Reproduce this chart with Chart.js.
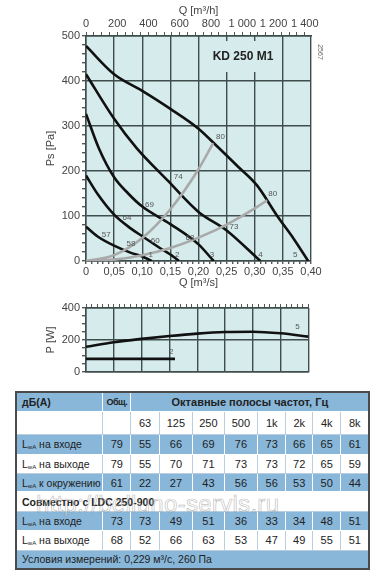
<!DOCTYPE html>
<html>
<head>
<meta charset="utf-8">
<script src="https://cdn.jsdelivr.net/npm/chart.js@4.4.0/dist/chart.umd.min.js"></script>
<style>
  body { margin: 0; width: 384px; height: 579px; position: relative; overflow: hidden; background: #fff;
         font-family: "Liberation Sans", Arial, sans-serif; color: #222; }
  #fanChart { position: absolute; left: 0; top: 0; }
  #powerChart { position: absolute; left: 0; top: 292px; }
  #noise { position: absolute; left: 15px; top: 391px; width: 353px; border-collapse: collapse;
           table-layout: fixed; font-size: 11px; border: 2px solid #4a4a4a; }
  #noise td { border: 1px solid #fff; text-align: center; padding: 0; white-space: nowrap; }
  #noise tr.blue td { background: #88b7da; }
  #noise tr.white td { background: #fff; border-color: #b9cfe0; }
  #noise td.lbl { text-align: left; padding-left: 5px; font-size: 10.5px; }
  #noise sub { font-size: 6px; vertical-align: -1px; }
  .b { font-weight: bold; }
  #mark { position: absolute; left: 36px; top: 490px; font-size: 24px; color: rgba(255,255,255,0.3);
          -webkit-text-stroke: 0.7px rgba(110,110,110,0.45); letter-spacing: 0.3px; pointer-events: none; }
</style>
</head>
<body>
<canvas id="fanChart" width="384" height="292"></canvas>
<canvas id="powerChart" width="384" height="90"></canvas>

<table id="noise">
  <colgroup>
    <col style="width:86.7px"><col style="width:28.3px"><col style="width:28.3px"><col style="width:33.3px">
    <col style="width:31.7px"><col style="width:33.3px"><col style="width:28.3px"><col style="width:26.7px">
    <col style="width:28.3px"><col style="width:28.3px">
  </colgroup>
  <tbody id="noiseBody"></tbody>
</table>
<div id="mark">http://belluno-servis.ru</div>

<script>
// fan curves, Q in m3/s, Ps in Pa
const curveQ1 = [0, 0.02, 0.05, 0.08, 0.10, 0.117];
const curveP1 = [76, 55, 34, 18, 10, 0];
const curveQ2 = [0, 0.02, 0.05, 0.08, 0.10, 0.13, 0.156, 0.165];
const curveP2 = [190, 150, 103, 72, 55, 30, 9, 0];
const curveQ3 = [0, 0.023, 0.05, 0.075, 0.10, 0.15, 0.20, 0.227];
const curveP3 = [327, 250, 186, 150, 121, 82, 37, 0];
const curveQ4 = [0, 0.05, 0.09, 0.145, 0.20, 0.25, 0.31];
const curveP4 = [415, 316, 251, 179, 109, 68, 0];
const curveQ5 = [0, 0.05, 0.10, 0.15, 0.20, 0.233, 0.27, 0.304, 0.34, 0.37, 0.395];
const curveP5 = [478, 415, 378, 338, 294, 255, 210, 168, 100, 48, 0];

// system curves (grey)
const sysQHigh = [0, 0.05, 0.10, 0.15, 0.20, 0.226];
const sysPHigh = [0, 13, 51, 115, 204, 262];
const sysQLow = [0, 0.05, 0.10, 0.15, 0.20, 0.25, 0.30, 0.322];
const sysPLow = [0, 3, 13, 29, 52, 81, 117, 135];

// small labels inside the plot
const labelText = ['57', '64', '69', '74', '80', '58', '60', '68', '73', '80', '1', '2', '3', '4', '5'];
const labelQ = [0.036, 0.073, 0.113, 0.164, 0.239, 0.080, 0.123, 0.185, 0.263, 0.332, 0.115, 0.162, 0.224, 0.310, 0.372];
const labelP = [58, 95, 124, 187, 275, 38, 44, 52, 76, 150, 13, 13, 13, 13, 13];

// power curves, W
const powerQ5 = [0, 0.05, 0.10, 0.15, 0.20, 0.25, 0.30, 0.35, 0.40];
const powerW5 = [158, 186, 207, 225, 240, 250, 252, 242, 221];
const powerQ2 = [0, 0.16];
const powerW2 = [82, 82];
const powerLabelText = ['2', '5'];
const powerLabelQ = [0.153, 0.38];
const powerLabelW = [126, 284];

// noise table
const bands = ['63', '125', '250', '500', '1k', '2k', '4k', '8k'];
const rowNames = ['на входе', 'на выходе', 'к окружению'];
const rowTotal = [79, 79, 61];
const rowBands = [
  [55, 66, 69, 76, 73, 66, 65, 61],
  [55, 70, 71, 73, 73, 72, 65, 59],
  [22, 27, 43, 56, 56, 53, 50, 44]
];
const ldcNames = ['на входе', 'на выходе'];
const ldcTotal = [73, 68];
const ldcBands = [
  [73, 49, 51, 36, 33, 34, 48, 51],
  [52, 66, 63, 53, 47, 49, 55, 51]
];

const PLOT_BG = '#d6ebeb';
const GRID = '#3f4d4d';
const TXT = '#444';
const FONT = '"Liberation Sans", Arial, sans-serif';

const zip = (xs, ys) => xs.map((x, i) => ({ x, y: ys[i] }));
const comma = v => v === 0 ? '0' : v.toFixed(2).replace('.', ',');
const spaced = v => v >= 1000 ? Math.floor(v / 1000) + ' ' + String(v % 1000).padStart(3, '0') : String(v);
const isMult = (v, step) => Math.abs(v / step - Math.round(v / step)) < 1e-6;

const bgPlugin = {
  id: 'plotBg',
  beforeDraw(chart) {
    const { ctx, chartArea: a } = chart;
    ctx.save();
    ctx.fillStyle = PLOT_BG;
    ctx.fillRect(a.left, a.top, a.right - a.left, a.bottom - a.top);
    ctx.restore();
  }
};

function lineSet(xs, ys, color) {
  return {
    data: zip(xs, ys),
    borderColor: color,
    borderWidth: 2.6,
    pointRadius: 0,
    fill: false,
    cubicInterpolationMode: 'monotone'
  };
}

function textPlugin(id, texts, xs, ys) {
  return {
    id,
    afterDatasetsDraw(chart) {
      const { ctx, scales } = chart;
      ctx.save();
      ctx.font = '8px ' + FONT;
      ctx.fillStyle = '#555';
      ctx.textAlign = 'center';
      ctx.textBaseline = 'middle';
      texts.forEach((t, i) => {
        ctx.fillText(t, scales.x.getPixelForValue(xs[i]), scales.y.getPixelForValue(ys[i]));
      });
      ctx.restore();
    }
  };
}

const titlePlugin = {
  id: 'modelTitle',
  beforeDatasetsDraw(chart) {
    const { ctx, chartArea: a } = chart;
    ctx.save();
    ctx.fillStyle = PLOT_BG;
    ctx.fillRect(212, a.top + 5, 63, 31);
    ctx.fillStyle = '#222';
    ctx.font = 'bold 12px ' + FONT;
    ctx.textAlign = 'center';
    ctx.textBaseline = 'middle';
    ctx.fillText('KD 250 M1', 243, a.top + 21);
    ctx.font = '7px ' + FONT;
    ctx.fillStyle = '#666';
    ctx.translate(a.right + 9, a.top + 16);
    ctx.rotate(Math.PI / 2);
    ctx.fillText('2567', 0, 0);
    ctx.restore();
  }
};

const tickFont = { family: FONT, size: 11 };
const titleFont = { family: FONT, size: 11 };

new Chart(document.getElementById('fanChart').getContext('2d'), {
  type: 'line',
  data: {
    datasets: [
      lineSet(sysQHigh, sysPHigh, '#a9a9a9'),
      lineSet(sysQLow, sysPLow, '#a9a9a9'),
      lineSet(curveQ1, curveP1, '#111'),
      lineSet(curveQ2, curveP2, '#111'),
      lineSet(curveQ3, curveP3, '#111'),
      lineSet(curveQ4, curveP4, '#111'),
      lineSet(curveQ5, curveP5, '#111')
    ]
  },
  options: {
    responsive: false,
    animation: false,
    layout: { padding: { left: 40, top: 2, right: 73, bottom: 0 } },
    plugins: { legend: { display: false }, tooltip: { enabled: false } },
    scales: {
      x: {
        type: 'linear', position: 'bottom', min: 0, max: 0.4,
        afterFit: s => { s.height = 31; },
        ticks: {
          stepSize: 0.01, autoSkip: false, maxRotation: 0, padding: 1,
          color: TXT, font: tickFont,
          callback: v => isMult(v, 0.05) ? comma(v) : ''
        },
        grid: {
          color: c => isMult(c.tick.value, 0.05) ? GRID : 'transparent',
          lineWidth: 1.4, tickLength: 3, tickColor: '#555'
        },
        border: { color: GRID, width: 1.5 },
        title: { display: true, text: 'Q [m³/s]', color: TXT, font: titleFont, padding: 2 }
      },
      x2: {
        type: 'linear', axis: 'x', position: 'top', min: 0, max: 1440,
        afterFit: s => { s.height = 34; },
        ticks: {
          stepSize: 50, autoSkip: false, maxRotation: 0, padding: 1, includeBounds: false,
          color: TXT, font: tickFont,
          callback: v => isMult(v, 200) ? spaced(v) : ''
        },
        grid: { drawOnChartArea: false, tickLength: 4, tickColor: '#555' },
        border: { color: GRID, width: 1.5 },
        title: { display: true, text: 'Q [m³/h]', color: TXT, font: titleFont, padding: 2 }
      },
      y: {
        type: 'linear', min: 0, max: 500,
        afterFit: s => { s.width = 46; },
        ticks: {
          stepSize: 20, autoSkip: false, padding: 2,
          color: TXT, font: tickFont,
          callback: v => isMult(v, 100) ? String(v) : ''
        },
        grid: {
          color: c => isMult(c.tick.value, 100) ? GRID : 'transparent',
          lineWidth: 1.4, tickLength: 4, tickColor: '#555'
        },
        border: { color: GRID, width: 1.5 },
        title: { display: true, text: 'Ps [Pa]', color: TXT, font: titleFont, padding: 4 }
      }
    }
  },
  plugins: [bgPlugin, titlePlugin, textPlugin('curveLabels', labelText, labelQ, labelP)]
});

new Chart(document.getElementById('powerChart').getContext('2d'), {
  type: 'line',
  data: {
    datasets: [
      lineSet(powerQ2, powerW2, '#111'),
      lineSet(powerQ5, powerW5, '#111')
    ]
  },
  options: {
    responsive: false,
    animation: false,
    layout: { padding: { left: 40, top: 0, right: 75.5, bottom: 10 } },
    plugins: { legend: { display: false }, tooltip: { enabled: false } },
    scales: {
      x: {
        type: 'linear', position: 'bottom', min: 0, max: 0.4,
        afterFit: s => { s.height = 0; },
        ticks: { display: false, stepSize: 0.05 },
        grid: { color: GRID, lineWidth: 1.4, drawTicks: false },
        border: { color: GRID, width: 1.5 }
      },
      x2: {
        type: 'linear', axis: 'x', position: 'top', min: 0, max: 0.4,
        afterFit: s => { s.height = 16; },
        ticks: { stepSize: 0.01, autoSkip: false, callback: () => '' },
        grid: { drawOnChartArea: false, tickLength: 4, tickColor: '#555' },
        border: { color: GRID, width: 1.5 }
      },
      y: {
        type: 'linear', min: 0, max: 400,
        afterFit: s => { s.width = 46; },
        ticks: {
          stepSize: 50, autoSkip: false, padding: 2,
          color: TXT, font: tickFont,
          callback: v => isMult(v, 200) ? String(v) : ''
        },
        grid: {
          color: c => isMult(c.tick.value, 200) ? GRID : 'transparent',
          lineWidth: 1.4, tickLength: 4, tickColor: '#555'
        },
        border: { color: GRID, width: 1.5 },
        title: { display: true, text: 'P [W]', color: TXT, font: titleFont, padding: 4 }
      }
    }
  },
  plugins: [bgPlugin, textPlugin('powerLabels', powerLabelText, powerLabelQ, powerLabelW)]
});

// table
const rowHeights = [19.5, 22.5, 20, 19.5, 18, 20, 18.5, 20, 18.5];
const lwa = name => `L<sub>wA</sub> ${name}`;
const rows = [];
rows.push(`<tr class="blue"><td class="lbl b">дБ(А)</td><td class="b" style="font-size:9px;letter-spacing:-0.5px">Общ.</td><td class="b" colspan="8">Октавные полосы частот, Гц</td></tr>`);
rows.push(`<tr class="white"><td></td><td></td>${bands.map(b => `<td>${b}</td>`).join('')}</tr>`);
rowNames.forEach((n, i) => {
  rows.push(`<tr class="${i % 2 === 0 ? 'blue' : 'white'}"><td class="lbl">${lwa(n)}</td><td>${rowTotal[i]}</td>${rowBands[i].map(v => `<td>${v}</td>`).join('')}</tr>`);
});
rows.push(`<tr class="white"><td class="lbl b" colspan="10">Совместно с LDC 250-900</td></tr>`);
ldcNames.forEach((n, i) => {
  rows.push(`<tr class="${i % 2 === 0 ? 'blue' : 'white'}"><td class="lbl">${lwa(n)}</td><td>${ldcTotal[i]}</td>${ldcBands[i].map(v => `<td>${v}</td>`).join('')}</tr>`);
});
rows.push(`<tr class="blue"><td class="lbl" colspan="10">Условия измерений: 0,229 м³/с, 260 Па</td></tr>`);
const body = document.getElementById('noiseBody');
body.innerHTML = rows.join('');
Array.from(body.rows).forEach((r, i) => { r.style.height = rowHeights[i] + 'px'; });
</script>
</body>
</html>
